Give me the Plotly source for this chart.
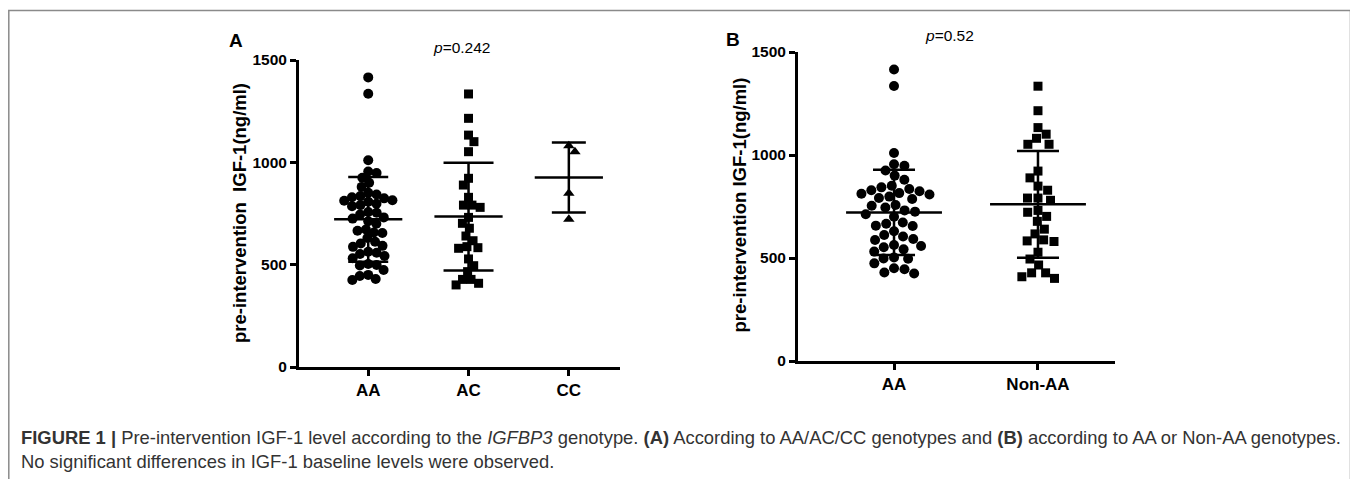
import numpy as np
import plotly.graph_objects as go

# ---------------- data ----------------
AA = [1415, 1335, 1010, 955, 948, 925, 900, 880,
      851, 843, 835, 829, 824, 815, 812, 808, 798, 791, 786,
      757, 754, 745, 731, 725, 712, 700,
      672, 666, 657, 655, 630,
      612, 604, 592, 587, 563,
      558, 552, 542, 531,
      503, 498, 496, 474, 450, 445, 430, 425]
AC = [1334, 1215, 1133, 1101, 1052, 922, 889, 829, 791, 780, 791, 731, 702,
      678, 640, 617, 588, 580, 583, 528, 495, 466, 428, 401, 409, 428]
CC = [1081, 1052, 849, 722]
NON_AA = AC + CC

cats_A = ["AA", "AC", "CC"]
cats_B = ["AA", "Non-AA"]
y_ticks = [0, 500, 1000, 1500]
p_A = "0.242"
p_B = "0.52"

# ---------------- layout geometry ----------------
W, H = 1358, 479
OFF = 8  # page body margin of the html page
def px_x(p):
    return (p - OFF) / W
def px_y(p):
    return 1 - (p - OFF) / H

A_dom_x = [px_x(299), px_x(620)]
A_dom_y = [px_y(367), px_y(60)]
A_rng_x = [-0.69, 2.51]
B_dom_x = [px_x(798), px_x(1115)]
B_dom_y = [px_y(361), px_y(52)]
B_rng_x = [-0.667, 1.535]
Y_RNG = [0, 1500]


def beeswarm(vals, dom_x, rng_x, dom_y, d):
    ypx = (dom_y[1] - dom_y[0]) * H / (Y_RNG[1] - Y_RNG[0])
    xpx = (dom_x[1] - dom_x[0]) * W / (rng_x[1] - rng_x[0])
    y = np.asarray(vals, dtype=float) * ypx
    order = np.argsort(-y, kind="stable")
    xs = np.zeros(len(y))
    placed = []
    side = 1
    for i in order:
        cands = [0.0]
        for j in placed:
            dy = y[i] - y[j]
            if abs(dy) < d:
                dx = np.sqrt(d * d - dy * dy)
                cands += [xs[j] + dx, xs[j] - dx]
        cands.sort(key=lambda c: (round(abs(c), 3), -side * c))
        for c in cands:
            if all((c - xs[j]) ** 2 + (y[i] - y[j]) ** 2 >= d * d - 1e-6 for j in placed):
                xs[i] = c
                break
        if xs[i] != 0:
            side = -np.sign(xs[i])
        placed.append(i)
    return xs / xpx


fig = go.Figure()

def add_group(vals, pos, symbol, size, xa, ya, dom_x, rng_x, dom_y, d, mean_hw, cap_w):
    offs = beeswarm(vals, dom_x, rng_x, dom_y, d)
    fig.add_trace(go.Scatter(
        x=pos + offs, y=vals, mode="markers", xaxis=xa, yaxis=ya,
        marker=dict(symbol=symbol, size=size, color="black", line=dict(width=0)),
        showlegend=False, hoverinfo="y"))
    m = float(np.mean(vals))
    sd = float(np.std(vals, ddof=1))
    fig.add_trace(go.Scatter(
        x=[pos - mean_hw, pos + mean_hw], y=[m, m], mode="lines", xaxis=xa, yaxis=ya,
        line=dict(color="black", width=2.5), showlegend=False, hoverinfo="skip"))
    fig.add_trace(go.Scatter(
        x=[pos], y=[m], mode="markers", xaxis=xa, yaxis=ya,
        marker=dict(size=1, opacity=0),
        error_y=dict(type="data", array=[sd], visible=True, color="black",
                     thickness=2.5, width=cap_w),
        showlegend=False, hoverinfo="skip"))

# Panel A
add_group(AA, 0, "circle", 10, "x", "y", A_dom_x, A_rng_x, A_dom_y, 8.5, 0.34, 20)
add_group(AC, 1, "square", 9, "x", "y", A_dom_x, A_rng_x, A_dom_y, 8.5, 0.34, 25)
add_group(CC, 2, "triangle-up", 10, "x", "y", A_dom_x, A_rng_x, A_dom_y, 8.5, 0.34, 17)
# Panel B
add_group(AA, 0, "circle", 10, "x2", "y2", B_dom_x, B_rng_x, B_dom_y, 10.5, 0.333, 21)
add_group(NON_AA, 1, "square", 9, "x2", "y2", B_dom_x, B_rng_x, B_dom_y, 10.5, 0.333, 21)

FONT = "Liberation Sans, Arial, sans-serif"
axis_common = dict(showline=True, linecolor="black", linewidth=3, ticks="outside",
                   ticklen=6, tickwidth=2.5, tickcolor="black", showgrid=False,
                   zeroline=False, fixedrange=True, automargin=False)
xfont = dict(family=FONT, size=17, color="black", weight="bold")
yfont = dict(family=FONT, size=15.5, color="black", weight="bold")

fig.update_layout(
    width=W, height=H, autosize=False,
    margin=dict(l=0, r=0, t=0, b=0, pad=0, autoexpand=False),
    paper_bgcolor="white", plot_bgcolor="white",
    xaxis=dict(domain=A_dom_x, range=A_rng_x, tickvals=list(range(len(cats_A))),
               ticktext=cats_A, tickfont=xfont, anchor="y", **axis_common),
    yaxis=dict(domain=A_dom_y, range=Y_RNG, tickvals=y_ticks, tickfont=yfont,
               anchor="x", **axis_common),
    xaxis2=dict(domain=B_dom_x, range=B_rng_x, tickvals=list(range(len(cats_B))),
                ticktext=cats_B, tickfont=xfont, anchor="y2", **axis_common),
    yaxis2=dict(domain=B_dom_y, range=Y_RNG, tickvals=y_ticks, tickfont=yfont,
                anchor="x2", **axis_common),
)

ann = []
def add_text(text, x, y, size, bold=False, angle=0, xanchor="center", color="black"):
    ann.append(dict(text=("<b>%s</b>" % text) if bold else text,
                    x=px_x(x), y=px_y(y), xref="paper", yref="paper",
                    xanchor=xanchor, yanchor="middle", showarrow=False, textangle=angle,
                    font=dict(family=FONT, size=size, color=color)))

add_text("A", 236, 40, 19, bold=True)
add_text("B", 733, 39, 19, bold=True)
add_text("<i>p</i>=" + p_A, 461, 47, 15.5)
add_text("<i>p</i>=" + p_B, 949, 36, 15.5)
add_text("pre-intervention  IGF-1(ng/ml)", 239, 213, 18.5, bold=True, angle=-90)
add_text("pre-intervention IGF-1(ng/ml)", 739, 205.5, 18.5, bold=True, angle=-90)
add_text("<b>FIGURE 1 |</b> Pre-intervention IGF-1 level according to the <i>IGFBP3</i> genotype. "
         "<b>(A)</b> According to AA/AC/CC genotypes and <b>(B)</b> according to AA or Non-AA genotypes.",
         19, 437, 18.4, xanchor="left", color="#333333")
add_text("No significant differences in IGF-1 baseline levels were observed.",
         19, 461, 18.4, xanchor="left", color="#333333")
fig.update_layout(annotations=ann)

fx0 = max(px_x(7.5), 0.8 / W)
frame = dict(type="path", xref="paper", yref="paper",
             path="M %f %f L %f %f L %f %f L %f %f" % (fx0, 0, fx0, px_y(10.5),
                                                       px_x(1350.5), px_y(10.5), px_x(1350.5), 0),
             line=dict(color="#8a8a8a", width=1.5))
fig.update_layout(shapes=[frame])

fig.write_html("out.html")
